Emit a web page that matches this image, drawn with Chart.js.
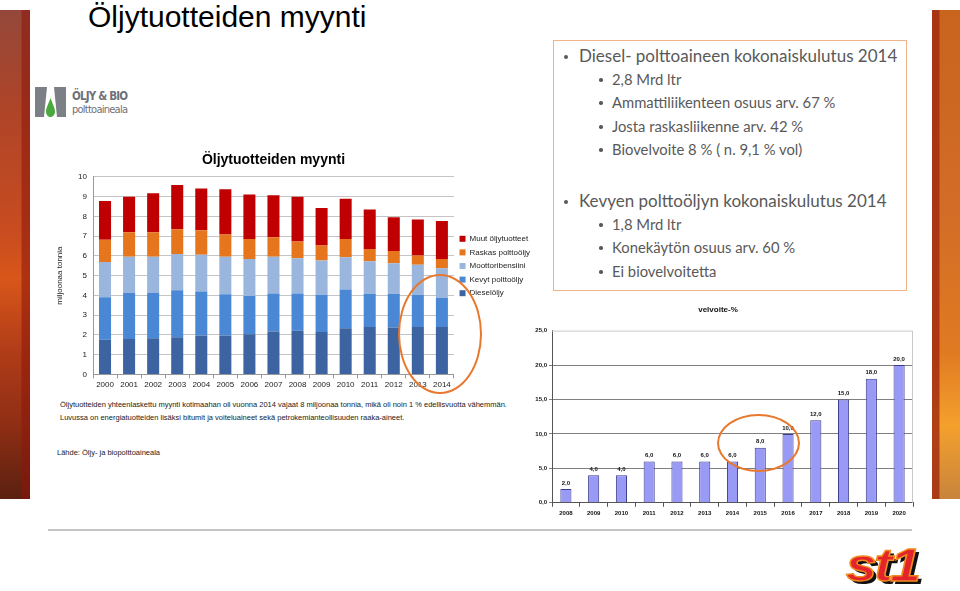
<!DOCTYPE html>
<html>
<head>
<meta charset="utf-8">
<script src="https://cdn.jsdelivr.net/npm/chart.js@4/dist/chart.umd.min.js"></script>
<style>
  html, body { margin: 0; padding: 0; background: #fff; }
  body { width: 960px; height: 591px; position: relative; overflow: hidden; font-family: "Liberation Sans", Arial, sans-serif; }
  .abs { position: absolute; }
  #stripL { left: 0; top: 10px; width: 30px; height: 489px;
    background: linear-gradient(to right, rgba(0,0,0,0) 0, rgba(0,0,0,0) 21px, rgba(140,20,10,0.55) 22px, rgba(140,20,10,0.55) 30px),
      linear-gradient(to bottom, #94483a 0%, #ae4428 20%, #c84c20 45%, #d8561a 55%, #b03c18 70%, #8e2e14 85%, #5a2010 100%); }
  #stripR { left: 932px; top: 10px; width: 28px; height: 489px;
    background: linear-gradient(to right, rgba(160,40,15,0.8) 0, rgba(160,40,15,0.8) 7px, rgba(0,0,0,0) 8px),
      linear-gradient(to bottom, #c8641e 0%, #d26c26 40%, #e07a22 70%, #f4a02c 85%, #c8843c 100%); }
  #title { left: 88px; top: 0px; font-size: 30px; color: #000; white-space: nowrap; }
  #box { left: 553px; top: 40px; width: 352px; height: 249px; border: 1px solid #efb48a; }
  .l1, .l2 { position: absolute; white-space: nowrap; color: #595959; font-family: Lato, "Open Sans", sans-serif; }
  .l1 { left: 579px; font-size: 17px; }
  .l2 { left: 612px; font-size: 14.8px; }
  .b1, .b2 { position: absolute; background: #595959; border-radius: 50%; }
  .b1 { width: 4px; height: 4px; left: 564px; }
  .b2 { width: 3.5px; height: 3.5px; left: 599px; }
  .note { left: 60px; font-size: 7.5px; color: #222; white-space: nowrap; }
  .ring { border: 2.5px solid #e8782e; border-radius: 50%; z-index: 5; }
  #st1 { left: 846px; top: 538px; font: italic 900 46px "Liberation Sans", Arial, sans-serif; color: #e3242b;
    -webkit-text-stroke: 1.4px #f28a1e; text-shadow: 3px 3px 0 #111; letter-spacing: -2px;
    transform: scaleX(1.2); transform-origin: left top; }
  #hline { left: 48px; top: 529px; width: 864px; height: 2px; background: #c4c4c4; }
</style>
</head>
<body>
<div id="stripL" class="abs"></div>
<div id="stripR" class="abs"></div>
<div id="title" class="abs">Öljytuotteiden myynti</div>

<svg class="abs" style="left:30px;top:82px" width="110" height="40">
  <polygon points="5,5 17,5 14,35 5,35" fill="#7d7f86"/>
  <polygon points="24,5 36,5 36,35 27,35" fill="#7d7f86"/>
  <path d="M20.5,16 C23,23 25,26 25,29.5 C25,32.5 23,35 20.5,35 C18,35 16,32.5 16,29.5 C16,26 18,23 20.5,16 Z" fill="#4aa83c"/>
  <text x="42" y="18" font-family="DejaVu Sans Condensed, Liberation Sans Narrow, sans-serif" font-weight="bold" font-size="11.5" fill="#6f7177" textLength="56">ÖLJY &amp; BIO</text>
  <text x="42" y="31" font-family="DejaVu Sans Condensed, Liberation Sans Narrow, sans-serif" font-size="11" fill="#6f7177" textLength="56">polttoaineala</text>
</svg>

<div class="abs" style="left:55px;top:140px;width:485px;height:255px"><canvas id="myynti"></canvas></div>

<div class="abs note" style="top:400px">Öljytuotteiden yhteenlaskettu myynti kotimaahan oli vuonna 2014 vajaat 8 miljoonaa tonnia, mikä oli noin 1 % edellisvuotta vähemmän.</div>
<div class="abs note" style="top:413px">Luvussa on energiatuotteiden lisäksi bitumit ja voiteluaineet sekä petrokemianteollisuuden raaka-aineet.</div>
<div class="abs note" style="top:448px;left:57px">Lähde: Öljy- ja biopolttoaineala</div>

<div id="box" class="abs"></div>
<div class="b1" style="top:55px"></div><div class="l1" style="top:45px">Diesel- polttoaineen kokonaiskulutus 2014</div>
<div class="b2" style="top:78px"></div><div class="l2" style="top:70px">2,8 Mrd ltr</div>
<div class="b2" style="top:101px"></div><div class="l2" style="top:93px">Ammattiliikenteen osuus arv. 67 %</div>
<div class="b2" style="top:125px"></div><div class="l2" style="top:117px">Josta raskasliikenne arv. 42 %</div>
<div class="b2" style="top:148px"></div><div class="l2" style="top:140px">Biovelvoite 8 % ( n. 9,1 % vol)</div>
<div class="b1" style="top:200px"></div><div class="l1" style="top:190px">Kevyen polttoöljyn kokonaiskulutus 2014</div>
<div class="b2" style="top:223px"></div><div class="l2" style="top:215px">1,8 Mrd ltr</div>
<div class="b2" style="top:246px"></div><div class="l2" style="top:238px">Konekäytön osuus arv. 60 %</div>
<div class="b2" style="top:270px"></div><div class="l2" style="top:262px">Ei biovelvoitetta</div>

<div class="abs" style="left:523px;top:298px;width:400px;height:225px"><canvas id="velvoite"></canvas></div>

<div id="hline" class="abs"></div>
<div class="abs ring" style="left:398px;top:274px;width:80px;height:116px"></div>
<div class="abs ring" style="left:717px;top:414px;width:79px;height:54px"></div>
<div id="st1" class="abs">st1</div>

<script>
const VUODET = ['2000','2001','2002','2003','2004','2005','2006','2007','2008','2009','2010','2011','2012','2013','2014'];
const DIESEL   = [1.75, 1.79, 1.83, 1.88, 1.97, 1.97, 2.03, 2.17, 2.21, 2.14, 2.33, 2.40, 2.37, 2.40, 2.40];
const KEVYT    = [2.16, 2.33, 2.29, 2.38, 2.22, 2.08, 1.94, 1.92, 1.88, 1.89, 1.97, 1.67, 1.70, 1.62, 1.48];
const BENSIINI = [1.78, 1.83, 1.83, 1.83, 1.86, 1.90, 1.87, 1.86, 1.79, 1.74, 1.63, 1.65, 1.55, 1.53, 1.49];
const RASKAS   = [1.13, 1.25, 1.25, 1.25, 1.25, 1.13, 1.01, 0.99, 0.85, 0.75, 0.92, 0.63, 0.62, 0.47, 0.47];
const MUUT     = [1.96, 1.79, 1.97, 2.24, 2.11, 2.29, 2.26, 2.12, 2.26, 1.90, 2.04, 2.00, 1.71, 1.82, 1.92];

const VELVOITE_VUODET = ['2008','2009','2010','2011','2012','2013','2014','2015','2016','2017','2018','2019','2020'];
const VELVOITE = [2, 4, 4, 6, 6, 6, 6, 8, 10, 12, 15, 18, 20];

const fmt = v => v.toFixed(1).replace('.', ',');
const FONT = '"Liberation Sans", Arial, sans-serif';

// --- Öljytuotteiden myynti ---
const pino = (label, data, color) => ({ label, data, backgroundColor: color, borderWidth: 0, barPercentage: 0.5, categoryPercentage: 1 });

new Chart(document.getElementById('myynti'), {
    type: 'bar',
    data: {
        labels: VUODET,
        datasets: [
            pino('Dieselöljy', DIESEL, '#3c64a0'),
            pino('Kevyt polttoöljy', KEVYT, '#4a88d6'),
            pino('Moottoribensiini', BENSIINI, '#9ab6dc'),
            pino('Raskas polttoöljy', RASKAS, '#e6761e'),
            pino('Muut öljytuotteet', MUUT, '#c00000')
        ]
    },
    options: {
        responsive: true,
        maintainAspectRatio: false,
        animation: false,
        layout: { padding: { top: 0, bottom: 3, right: 0 } },
        plugins: {
            title: { display: true, text: 'Öljytuotteiden myynti', fullSize: false, color: '#000',
                     font: { family: FONT, size: 14, weight: 'bold' }, padding: { top: 12, bottom: 8 } },
            legend: { position: 'right', reverse: true,
                      labels: { boxWidth: 6, boxHeight: 6, padding: 5.6, color: '#222', font: { family: FONT, size: 8 } } },
            tooltip: { enabled: false }
        },
        scales: {
            x: { stacked: true,
                 grid: { drawOnChartArea: false, offset: true, tickLength: 4, color: '#999' },
                 border: { color: '#999' },
                 ticks: { color: '#222', font: { family: FONT, size: 8 }, padding: 2, maxRotation: 0 } },
            y: { stacked: true, min: 0, max: 10,
                 afterFit: s => { s.width = 38; },
                 title: { display: true, text: 'miljoonaa tonnia', color: '#222', font: { family: FONT, size: 8 }, padding: { top: 0, bottom: 6 } },
                 grid: { color: '#c4c4c4', drawTicks: false },
                 border: { color: '#999' },
                 ticks: { stepSize: 1, color: '#222', font: { family: FONT, size: 8 }, padding: 6 } }
        }
    }
});

// --- velvoite-% ---
const kehys = {
    id: 'kehys',
    beforeDatasetsDraw(chart) {
        const a = chart.chartArea, ctx = chart.ctx;
        ctx.save();
        ctx.strokeStyle = '#c8c8c8';
        ctx.lineWidth = 1;
        ctx.beginPath();
        ctx.moveTo(a.left, a.top + 0.5);
        ctx.lineTo(a.right - 0.5, a.top + 0.5);
        ctx.lineTo(a.right - 0.5, a.bottom);
        ctx.stroke();
        ctx.restore();
    }
};
const arvot = {
    id: 'arvot',
    afterDatasetsDraw(chart) {
        const ctx = chart.ctx;
        ctx.save();
        ctx.font = 'bold 6px ' + FONT;
        ctx.fillStyle = '#111';
        ctx.textAlign = 'center';
        ctx.textBaseline = 'middle';
        chart.getDatasetMeta(0).data.forEach((bar, i) => {
            ctx.fillText(fmt(VELVOITE[i]), bar.x, bar.y - 6);
        });
        ctx.restore();
    }
};

new Chart(document.getElementById('velvoite'), {
    type: 'bar',
    data: {
        labels: VELVOITE_VUODET,
        datasets: [{
            label: 'velvoite-%',
            data: VELVOITE,
            backgroundColor: '#9999f6',
            borderColor: '#3c3c8c',
            borderWidth: 1,
            barPercentage: 0.4,
            categoryPercentage: 1
        }]
    },
    plugins: [kehys, arvot],
    options: {
        responsive: true,
        maintainAspectRatio: false,
        animation: false,
        layout: { padding: { right: 10, bottom: 3 } },
        plugins: {
            title: { display: true, text: 'velvoite-%', color: '#111',
                     font: { family: FONT, size: 8, weight: 'bold' }, padding: { top: 7, bottom: 16 } },
            legend: { display: false },
            tooltip: { enabled: false }
        },
        scales: {
            x: { grid: { drawOnChartArea: false, offset: true, tickLength: 4, color: '#555' },
                 border: { color: '#555' },
                 ticks: { color: '#111', font: { family: FONT, size: 6, weight: 'bold' }, padding: 3, maxRotation: 0 } },
            y: { min: 0, max: 25,
                 afterFit: s => { s.width = 29; },
                 grid: { color: c => c.tick.value === 25 ? 'rgba(0,0,0,0)' : '#808080', drawTicks: true, tickLength: 3 },
                 border: { color: '#555' },
                 ticks: { stepSize: 5, callback: v => fmt(v), color: '#111', font: { family: FONT, size: 6, weight: 'bold' }, padding: 2 } }
        }
    }
});
</script>
</body>
</html>
